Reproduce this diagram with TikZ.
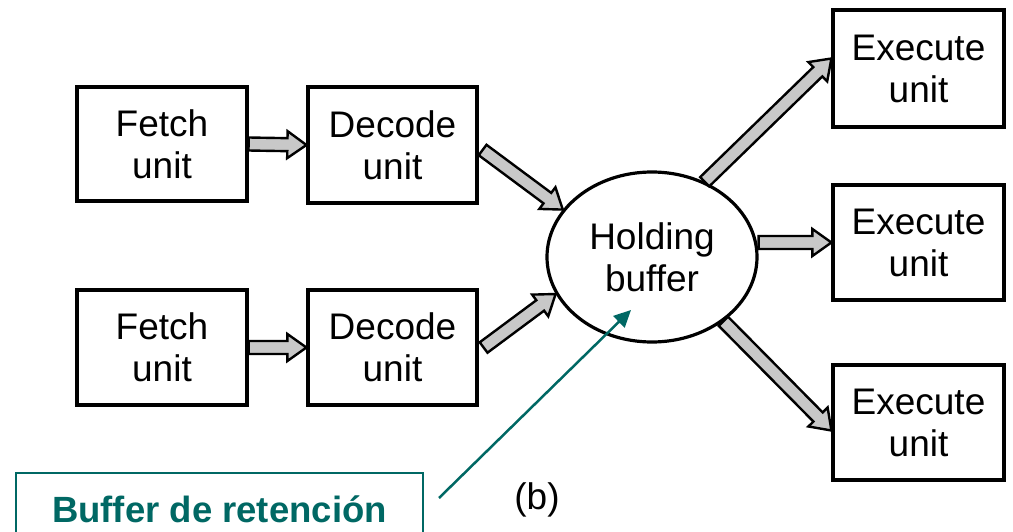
\documentclass[tikz,border=0pt]{standalone}
\usepackage{fontspec}
\setmainfont{Liberation Sans}
\usetikzlibrary{calc,shapes.geometric,arrows.meta}
\definecolor{arrowfill}{RGB}{200,200,200}
\definecolor{tealc}{RGB}{0,104,100}
\tikzset{
  unitbox/.style={draw=black, line width=3.2pt, rectangle, inner sep=0pt,
    align=center, font=\fontsize{37}{42}\selectfont},
  fatarrowstyle/.style={draw=black, line width=2.4pt, fill=arrowfill, line join=miter},
  leader/.style={draw=tealc, line width=2.5pt, -{Triangle[length=17pt,width=16pt]}},
}
\newcommand\fatarrow[2]{%
  \path[fatarrowstyle] let \p1=(#1), \p2=(#2),
    \n1={atan2(\y2-\y1,\x2-\x1)},
    \n2={veclen(\x2-\x1,\y2-\y1)-19pt} in
    ($(\p1)+(\n1+90:6.5pt)$)
    -- ($(\p1)+(\n1:\n2)+(\n1+90:6.5pt)$)
    -- ($(\p1)+(\n1:\n2)+(\n1+90:13.5pt)$)
    -- (\p2)
    -- ($(\p1)+(\n1:\n2)+(\n1-90:13.5pt)$)
    -- ($(\p1)+(\n1:\n2)+(\n1-90:6.5pt)$)
    -- ($(\p1)+(\n1-90:6.5pt)$) -- cycle;}
\begin{document}
\begin{tikzpicture}[x=1pt,y=-1pt]
\clip (0,0) rectangle (1013,532);
\fill[white] (0,0) rectangle (1013,532);
% boxes
\node[unitbox, minimum width=170pt, minimum height=114pt] (f1) at (162,144) {Fetch\\unit};
\node[unitbox, minimum width=169pt, minimum height=116pt] (d1) at (392.5,145) {Decode\\unit};
\node[unitbox, minimum width=170pt, minimum height=115pt] (f2) at (162,347.5) {Fetch\\unit};
\node[unitbox, minimum width=169pt, minimum height=115pt] (d2) at (392.5,347.5) {Decode\\unit};
\node[unitbox, ellipse, minimum width=210pt, minimum height=170pt] (hb) at (652,257) {Holding\\buffer};
\node[unitbox, minimum width=171pt, minimum height=117pt] (e1) at (918.5,68.5) {Execute\\unit};
\node[unitbox, minimum width=171pt, minimum height=115pt] (e2) at (918.5,242.5) {Execute\\unit};
\node[unitbox, minimum width=171pt, minimum height=115pt] (e3) at (918.5,422.5) {Execute\\unit};
% fat arrows
\fatarrow{f1.east}{d1.west}
\fatarrow{f2.east}{d2.west}
\fatarrow{$(d1.east)+(4,5)$}{hb.152}
\fatarrow{$(d2.east)+(5,0)$}{hb.201}
\fatarrow{hb.55}{$(e1.west)+(0,-10)$}
\fatarrow{hb.east |- e2.west}{e2.west}
\fatarrow{hb.-42}{$(e3.west)+(0,8)$}
% label
\node (b) at (537,500) {\fontsize{37}{42}\selectfont (b)};
\node[draw=tealc, line width=2.2pt, rectangle, minimum width=407pt, minimum height=80pt,
  text height=26pt, text depth=8pt, inner sep=0pt, text=tealc,
  font=\fontsize{36.5}{42}\selectfont\bfseries] (lbl) at (219.5,513) {Buffer de retención};
\coordinate (lstart) at (439,498);
\coordinate (ltip) at (631,310);
\draw[leader] (lstart) -- (ltip);
\end{tikzpicture}
\end{document}
